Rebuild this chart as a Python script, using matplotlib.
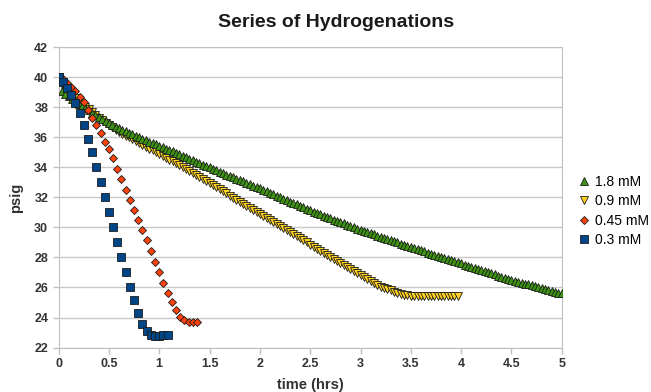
import numpy as np
import matplotlib
matplotlib.use("Agg")
import matplotlib.pyplot as plt

# pressure readings (psig); 1.8 / 0.9 mM read every 2 min, 0.45 / 0.3 mM every 2.5 min
p_18 = [40.00, 39.10, 38.92, 38.75, 38.58, 38.42, 38.25, 38.10, 37.95, 37.80,
        37.65, 37.50, 37.35, 37.22, 37.08, 36.95, 36.83, 36.72, 36.60, 36.50,
        36.40, 36.30, 36.20, 36.10, 36.00, 35.91, 35.82, 35.72, 35.63, 35.54,
        35.45, 35.35, 35.26, 35.16, 35.07, 34.97, 34.87, 34.77, 34.68, 34.58,
        34.48, 34.39, 34.29, 34.19, 34.10, 34.00, 33.91, 33.81, 33.72, 33.63,
        33.53, 33.44, 33.35, 33.25, 33.16, 33.07, 32.97, 32.88, 32.79, 32.69,
        32.60, 32.50, 32.41, 32.31, 32.21, 32.12, 32.02, 31.92, 31.83, 31.73,
        31.63, 31.54, 31.44, 31.34, 31.25, 31.15, 31.06, 30.97, 30.88, 30.79,
        30.70, 30.62, 30.53, 30.44, 30.35, 30.27, 30.18, 30.10, 30.02, 29.93,
        29.85, 29.77, 29.69, 29.62, 29.54, 29.46, 29.38, 29.31, 29.23, 29.15,
        29.08, 29.00, 28.92, 28.85, 28.77, 28.70, 28.63, 28.55, 28.48, 28.41,
        28.33, 28.26, 28.19, 28.11, 28.04, 27.97, 27.89, 27.82, 27.75, 27.67,
        27.60, 27.53, 27.45, 27.38, 27.31, 27.23, 27.16, 27.09, 27.01, 26.94,
        26.87, 26.79, 26.72, 26.65, 26.57, 26.50, 26.44, 26.38, 26.32, 26.26,
        26.20, 26.14, 26.08, 26.02, 25.96, 25.90, 25.84, 25.78, 25.72, 25.66,
        25.60]
p_09 = [40.00, 39.55, 39.30, 39.05, 38.83, 38.61, 38.40, 38.23, 38.06, 37.90,
        37.70, 37.50, 37.30, 37.14, 36.98, 36.82, 36.67, 36.52, 36.38, 36.25,
        36.12, 36.00, 35.87, 35.75, 35.62, 35.50, 35.38, 35.26, 35.14, 35.03,
        34.92, 34.79, 34.66, 34.53, 34.40, 34.27, 34.14, 34.01, 33.87, 33.74,
        33.61, 33.48, 33.35, 33.22, 33.08, 32.95, 32.81, 32.68, 32.54, 32.40,
        32.27, 32.13, 31.99, 31.86, 31.72, 31.58, 31.45, 31.31, 31.17, 31.04,
        30.90, 30.77, 30.63, 30.50, 30.36, 30.23, 30.09, 29.96, 29.82, 29.69,
        29.55, 29.42, 29.28, 29.14, 29.00, 28.86, 28.72, 28.58, 28.44, 28.31,
        28.17, 28.03, 27.89, 27.75, 27.61, 27.48, 27.35, 27.21, 27.08, 26.95,
        26.81, 26.68, 26.55, 26.41, 26.28, 26.16, 26.05, 25.95, 25.87, 25.80,
        25.72, 25.65, 25.58, 25.53, 25.49, 25.45, 25.42, 25.40, 25.40, 25.40,
        25.41, 25.42, 25.43, 25.44, 25.45, 25.45, 25.45, 25.45, 25.45, 25.45]
p_045 = [40.00, 39.90, 39.65, 39.38, 39.08, 38.72, 38.33, 37.85, 37.30, 36.80,
         36.28, 35.72, 35.20, 34.60, 33.90, 33.20, 32.50, 31.82, 31.15, 30.50,
         29.82, 29.15, 28.45, 27.70, 27.00, 26.30, 25.65, 25.05, 24.50, 24.05,
         23.83, 23.72, 23.70, 23.70]
p_03 = [40.00, 39.70, 39.30, 38.80, 38.30, 37.60, 36.80, 35.90, 35.00, 34.05,
        33.05, 32.05, 31.00, 30.00, 29.00, 28.00, 27.00, 26.00, 25.15, 24.32,
        23.60, 23.12, 22.85, 22.80, 22.80, 22.83, 22.85]

dt_fast = 2 / 60     # hrs between readings
dt_slow = 2.5 / 60
t_18 = np.arange(len(p_18)) * dt_fast
t_09 = np.arange(len(p_09)) * dt_fast
t_045 = np.arange(len(p_045)) * dt_slow
t_03 = np.arange(len(p_03)) * dt_slow

plt.rcParams['font.family'] = ['Liberation Sans', 'DejaVu Sans']

fig = plt.figure(figsize=(6.51, 3.92), dpi=100)
ax = fig.add_axes([0.09, 0.1135, 0.773, 0.7655])

ax.plot(t_18, p_18, '^', color='#3c9412', mec='#1a1a1a', mew=0.6, ms=5.6, label='1.8 mM', zorder=4)
ax.plot(t_09, p_09, 'v', color='#ffd320', mec='#1a1a1a', mew=0.6, ms=5.6, label='0.9 mM', zorder=3)
ax.plot(t_045, p_045, 'D', color='#ff420e', mec='#1a1a1a', mew=0.6, ms=4.2, label='0.45 mM', zorder=5)
ax.plot(t_03, p_03, 's', color='#004586', mec='#1a1a1a', mew=0.6, ms=5.6, label='0.3 mM', zorder=6)

ax.set_xlim(0, 5)
ax.set_ylim(22, 42)
ax.set_xticks(np.arange(0, 5.01, 0.5))
ax.set_xticklabels(['0', '0.5', '1', '1.5', '2', '2.5', '3', '3.5', '4', '4.5', '5'])
ax.set_yticks(np.arange(22, 43, 2))
ax.yaxis.grid(True, color='#c8c8c8', lw=1)
ax.set_axisbelow(True)
for s in ax.spines.values():
    s.set_color('#c0c0c0')
ax.tick_params(colors='#c0c0c0', length=4, width=1, labelcolor='#333333', labelsize=9)
for lab in ax.get_xticklabels() + ax.get_yticklabels():
    lab.set_fontweight('bold')

ax.set_xlabel('time (hrs)', fontsize=10.5, fontweight='bold', color='#333333', labelpad=6)
ax.set_ylabel('psig', fontsize=10.5, fontweight='bold', color='#333333', labelpad=8)
fig.text(0.516, 0.942, 'Series of Hydrogenations', fontsize=14, fontweight='bold',
         color='#1a1a1a', ha='center', va='center')

fig.legend(loc='center left', bbox_to_anchor=(0.878, 0.462), frameon=False,
           fontsize=10, handletextpad=0.3, labelspacing=0.38, handlelength=1,
           borderaxespad=0, markerscale=1.0)

plt.savefig('out.png', dpi=100)
